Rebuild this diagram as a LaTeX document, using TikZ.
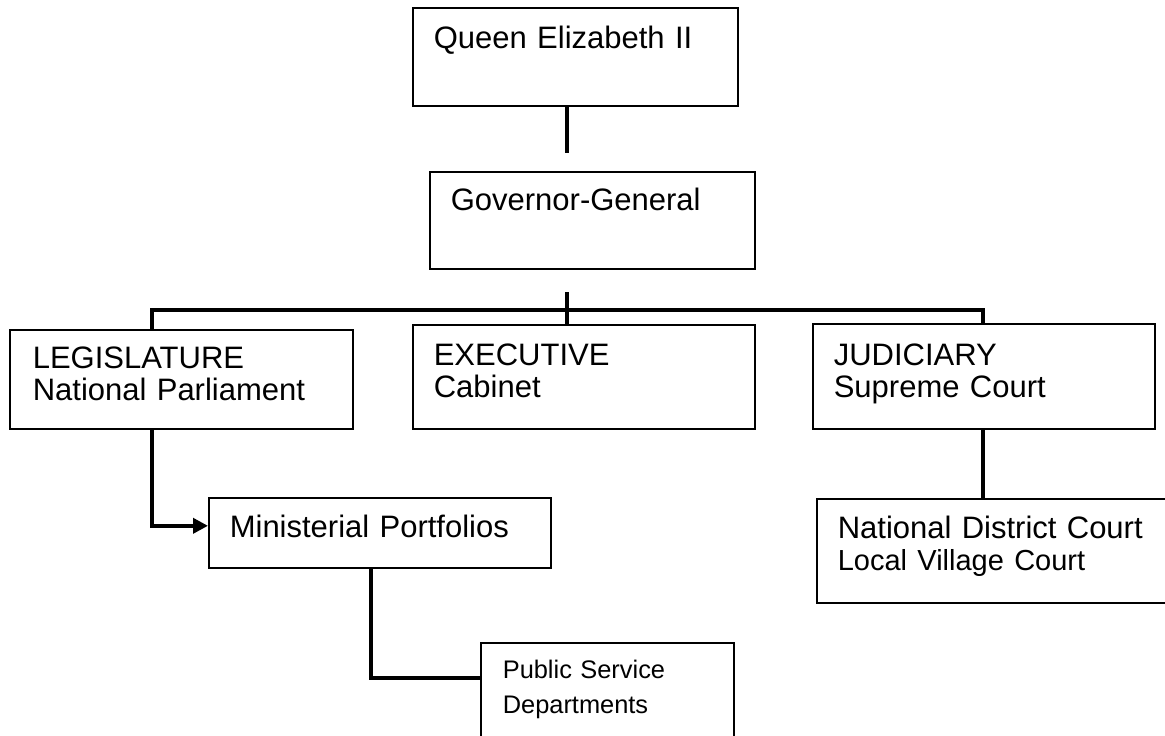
\documentclass[tikz,border=0pt]{standalone}
\usepackage{fontspec}
\setmainfont{Liberation Sans}
\usetikzlibrary{arrows.meta}

\begin{document}
\begin{tikzpicture}[x=0.5pt,y=-0.5pt,>={Triangle[length=7.5pt,width=7.5pt]},
		office/.style={draw,line width=0.8pt,anchor=north west,align=left,
			inner ysep=0pt,inner xsep=10.5pt,text width=150pt,
			font=\fontsize{15.5}{16}\selectfont},
		link/.style={line width=2pt}]
		  \useasboundingbox (0,0) rectangle (1165,735);
		  % the boxes
		  \node[office,text width=141.5pt,text height=20.5pt,text depth=28.5pt] (queen) at (412,7) {Queen Elizabeth II};
		  \node[office,text width=141.5pt,text height=19.5pt,text depth=29pt] (gov) at (429,171) {Governor-General};
		  \node[office,inner xsep=11.5pt,text width=148.5pt,text height=19.5pt,text depth=30pt] (leg) at (9,329) {LEGISLATURE\\National Parliament};
		  \node[office,text height=20.5pt,text depth=31.5pt] (exec) at (412,324) {EXECUTIVE\\Cabinet};
		  \node[office,text height=21pt,text depth=31.5pt] (jud) at (812,323) {JUDICIARY\\Supreme Court};
		  \node[office,text height=20pt,text depth=15pt] (mini) at (208,497) {Ministerial Portfolios};
		  \node[office,text width=166pt,text height=20pt,text depth=32pt] (court) at (816,498) {National District Court\\{\fontsize{14.5}{16}\selectfont Local Village Court}};
		  \node[office,inner xsep=11pt,text width=104.5pt,text height=18pt,text depth=51pt,font=\fontsize{12.7}{17.5}\selectfont] (pub) at (480,642) {Public Service\\Departments};
		  % the connectors
		  \coordinate (qend) at (567,153);
		  \coordinate (gtop) at (567,292);
		  \coordinate (lbar) at (152,310);
		  \coordinate (rbar) at (983,310);
		  \coordinate (mdrop) at (371,678);
		  \draw[link] (qend |- queen.south) -- (qend);
		  \draw[link] (gtop) -- (gtop |- exec.north);
		  \draw[link] (lbar |- leg.north) -- (lbar) -- (rbar) -- (rbar |- jud.north);
		  \draw[link,->] (lbar |- leg.south) |- ([yshift=3.5pt]mini.west);
		  \draw[link] (rbar |- jud.south) -- (rbar |- court.north);
		  \draw[link] (mdrop |- mini.south) -- (mdrop) -- (mdrop -| pub.west);
		\end{tikzpicture}
\end{document}
